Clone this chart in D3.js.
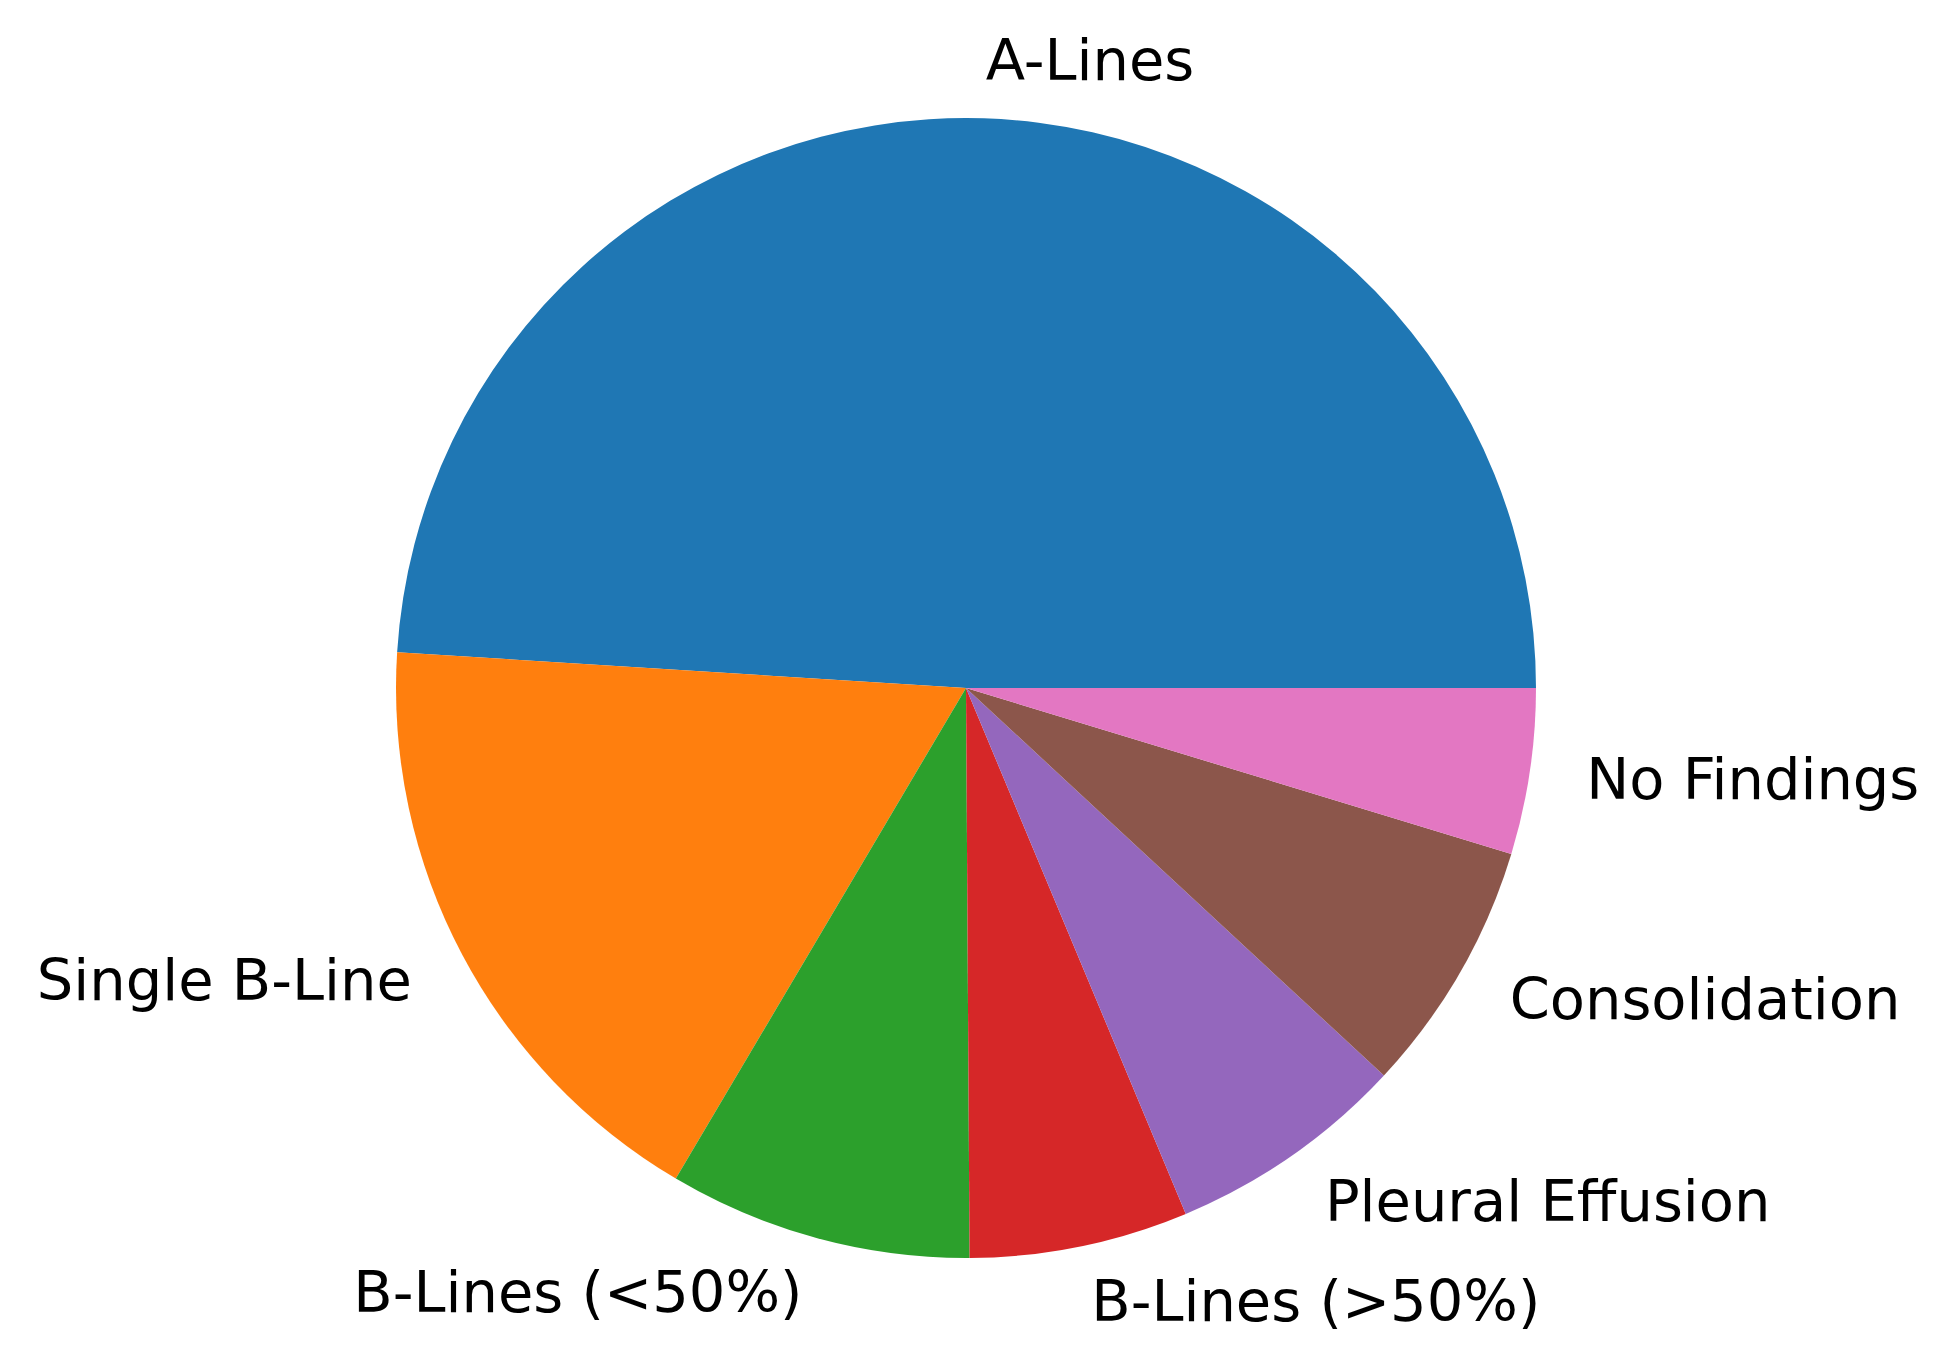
<!DOCTYPE html>
<html>
<head>
<meta charset="utf-8">
<script src="https://cdn.jsdelivr.net/npm/d3@7"></script>
<style>
  html, body { margin: 0; padding: 0; background: #ffffff; }
  svg { display: block; }
</style>
</head>
<body>
<svg id="chart" width="1941" height="1363"></svg>
<script>
const categories = ["A-Lines", "Single B-Line", "B-Lines (<50%)", "B-Lines (>50%)", "Pleural Effusion", "Consolidation", "No Findings"];
const values = [49.0, 17.5, 8.6, 6.2, 6.8, 7.2, 4.7];
const colors = ["#1f77b4", "#ff7f0e", "#2ca02c", "#d62728", "#9467bd", "#8c564b", "#e377c2"];

const svg = d3.select("#chart");
const cx = 966, cy = 688, r = 570;
const labelR = r * 1.1;

const data = categories.map((c, i) => ({ label: c, value: values[i], color: colors[i] }));

// matplotlib style: start at 3 o'clock, counterclockwise
const pie = d3.pie().sort(null).value(d => d.value)
  .startAngle(Math.PI / 2).endAngle(Math.PI / 2 - 2 * Math.PI);
const arcs = pie(data);
const arc = d3.arc().innerRadius(0).outerRadius(r);

const g = svg.append("g").attr("transform", `translate(${cx},${cy})`);

g.selectAll("path.slice").data(arcs).enter().append("path")
  .attr("class", "slice")
  .attr("d", arc)
  .attr("fill", d => d.data.color);

g.selectAll("text.label").data(arcs).enter().append("text")
  .attr("class", "label")
  .attr("x", d => Math.sin((d.startAngle + d.endAngle) / 2) * labelR)
  .attr("y", d => -Math.cos((d.startAngle + d.endAngle) / 2) * labelR + 19)
  .attr("text-anchor", d => Math.sin((d.startAngle + d.endAngle) / 2) > 0 ? "start" : "end")
  .attr("font-family", "DejaVu Sans, sans-serif")
  .attr("font-size", 57.5)
  .attr("fill", "#000")
  .text(d => d.data.label);
</script>
</body>
</html>
